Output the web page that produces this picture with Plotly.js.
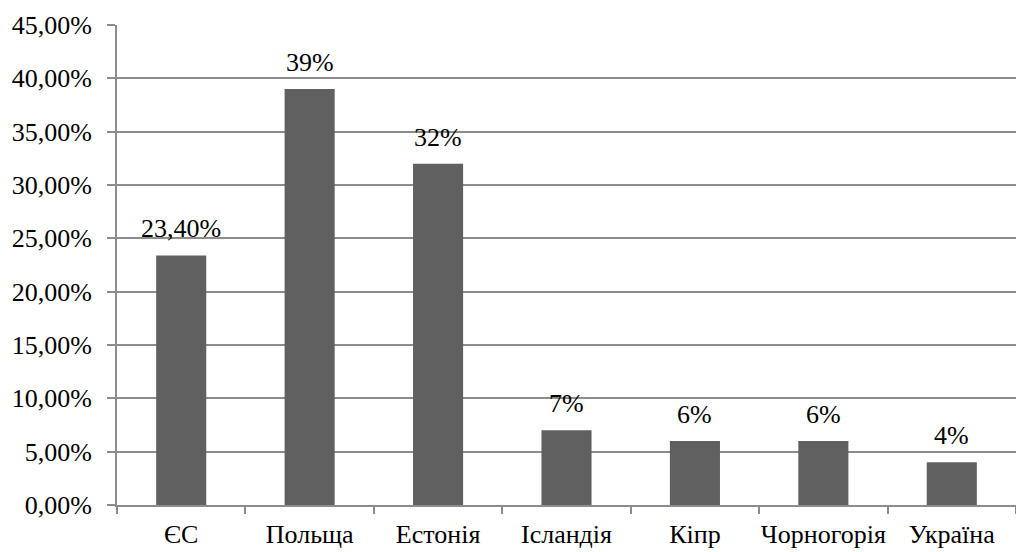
<!DOCTYPE html>
<html><head><meta charset="utf-8">
<script src="https://cdn.plot.ly/plotly-3.0.1.min.js"></script>
<style>
html,body{margin:0;padding:0;overflow:hidden;background:#fff}
</style>
</head><body><div id="chart"></div>
<script>
const categories = ["ЄС", "Польща", "Естонія", "Ісландія", "Кіпр", "Чорногорія", "Україна"];
const values = [23.4, 39, 32, 7, 6, 6, 4];
const valueLabels = ["23,40%", "39%", "32%", "7%", "6%", "6%", "4%"];
const yTickVals = [0, 5, 10, 15, 20, 25, 30, 35, 40, 45];
const yTickText = ["0,00%", "5,00%", "10,00%", "15,00%", "20,00%", "25,00%", "30,00%", "35,00%", "40,00%", "45,00%"];

function mkFont() { return {family: "Liberation Serif", size: 26, color: "#000"}; }
const trace = {
  type: "bar", x: categories, y: values,
  marker: {color: "#606060"},
  hoverinfo: "skip"
};
const annotations = categories.map((c, i) => ({
  x: c, y: values[i], text: valueLabels[i], showarrow: false,
  yanchor: "bottom", yshift: 10, font: mkFont()
}));
const layout = {
  width: 1016, height: 552,
  margin: {l: 117, r: 0, t: 25, b: 47},
  paper_bgcolor: "#fff", plot_bgcolor: "#fff",
  showlegend: false, bargap: 0.61,
  xaxis: {type: "category", showline: true, linecolor: "#8c8c8c", linewidth: 2,
    ticks: "outside", tickson: "boundaries", ticklen: 7, tickcolor: "#8c8c8c", tickwidth: 2,
    showgrid: false, tickfont: mkFont(), tickangle: 0, ticklabelstandoff: 5},
  yaxis: {range: [0, 45], tickvals: yTickVals, ticktext: yTickText,
    showline: true, linecolor: "#8c8c8c", linewidth: 2,
    ticks: "outside", ticklen: 8, tickcolor: "#8c8c8c", tickwidth: 2,
    showgrid: true, gridcolor: "#8c8c8c", gridwidth: 2, zeroline: false,
    tickfont: mkFont(), ticklabelstandoff: 10},
  annotations: annotations
};
Plotly.newPlot("chart", [trace], layout, {displayModeBar: false, staticPlot: true});
</script></body></html>
